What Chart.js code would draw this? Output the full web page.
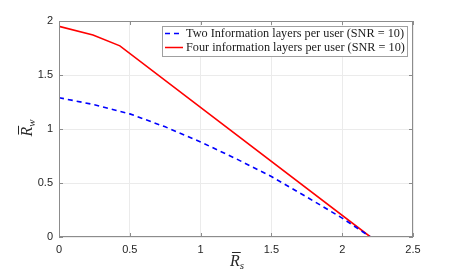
<!DOCTYPE html>
<html>
<head>
<meta charset="utf-8">
<script src="https://cdn.jsdelivr.net/npm/chart.js@4.4.1/dist/chart.umd.min.js"></script>
<style>
  html, body { margin: 0; padding: 0; background: #fff; }
  #wrap { width: 457px; height: 274px; }
</style>
</head>
<body>
<div id="wrap"><canvas id="c"></canvas></div>
<script>
// data
var seriesNames = ["Two Information layers per user (SNR = 10)", "Four information layers per user (SNR = 10)"];
var twoX = [0, 0.25, 0.5, 0.75, 1.0, 1.25, 1.5, 1.75, 2.0, 2.2];
var twoY = [1.29, 1.225, 1.14, 1.02, 0.88, 0.725, 0.56, 0.37, 0.175, 0];
var fourX = [0, 0.24, 0.43, 2.2];
var fourY = [1.95, 1.87, 1.77, 0];
var xTicks = [0, 0.5, 1, 1.5, 2, 2.5];
var yTicks = [0, 0.5, 1, 1.5, 2];

function pts(xs, ys) {
  return xs.map(function (x, i) { return { x: x, y: ys[i] }; });
}

// R-bar with subscript, drawn at (cx, cy) centre
function rbar(ctx, cx, cy, sub) {
  ctx.save();
  ctx.fillStyle = '#262626';
  ctx.strokeStyle = '#262626';
  ctx.textBaseline = 'alphabetic';
  ctx.font = 'italic 16px "Liberation Serif"';
  var wR = ctx.measureText('R').width;
  ctx.font = 'italic 11px "Liberation Serif"';
  var wS = ctx.measureText(sub).width;
  var x0 = cx - (wR + wS) / 2;
  var base = cy + 5;
  ctx.font = 'italic 16px "Liberation Serif"';
  ctx.fillText('R', x0, base);
  ctx.lineWidth = 1;
  ctx.beginPath();
  ctx.moveTo(x0 + 2, base - 13.5);
  ctx.lineTo(x0 + wR + 1, base - 13.5);
  ctx.stroke();
  ctx.font = 'italic 11px "Liberation Serif"';
  ctx.fillText(sub, x0 + wR, base + 3);
  ctx.restore();
}

var boxPlugin = {
  id: 'box',
  afterDraw: function (chart) {
    var ctx = chart.ctx, a = chart.chartArea;
    var xs = chart.scales.x, ys = chart.scales.y;
    ctx.save();
    // axes box
    ctx.strokeStyle = '#8c8c8c';
    ctx.lineWidth = 1;
    ctx.strokeRect(a.left + 0.5, a.top + 0.5, a.right - a.left - 1, a.bottom - a.top - 1);
    // inward ticks
    ctx.beginPath();
    xTicks.forEach(function (v) {
      var p = Math.round(xs.getPixelForValue(v)) + 0.5;
      ctx.moveTo(p, a.bottom); ctx.lineTo(p, a.bottom - 4);
      ctx.moveTo(p, a.top); ctx.lineTo(p, a.top + 4);
    });
    yTicks.forEach(function (v) {
      var p = Math.round(ys.getPixelForValue(v)) + 0.5;
      ctx.moveTo(a.left, p); ctx.lineTo(a.left + 4, p);
      ctx.moveTo(a.right, p); ctx.lineTo(a.right - 4, p);
    });
    ctx.stroke();

    // legend
    var lx = 162, ly = 26, lw = 245, lh = 30;
    ctx.fillStyle = '#fff';
    ctx.fillRect(lx, ly, lw, lh);
    ctx.strokeStyle = '#a0a0a0';
    ctx.strokeRect(lx + 0.5, ly + 0.5, lw, lh);
    var styles = [
      { color: '#0000ff', dash: [5, 4] },
      { color: '#ff0000', dash: [] }
    ];
    ctx.font = '11px "Liberation Serif"';
    var fs = 11 * 218 / ctx.measureText(seriesNames[0]).width;
    ctx.font = fs.toFixed(2) + 'px "Liberation Serif"';
    ctx.textBaseline = 'middle';
    [33.5, 47.5].forEach(function (y, i) {
      ctx.strokeStyle = styles[i].color;
      ctx.lineWidth = 1.5;
      ctx.setLineDash(styles[i].dash);
      ctx.beginPath();
      ctx.moveTo(165, y); ctx.lineTo(183, y);
      ctx.stroke();
      ctx.setLineDash([]);
      ctx.fillStyle = '#1a1a1a';
      ctx.fillText(seriesNames[i], 186, y + 0.5);
    });

    // axis titles
    rbar(ctx, 237, 261, 's');
    ctx.save();
    ctx.translate(27, 128);
    ctx.rotate(-Math.PI / 2);
    rbar(ctx, 0, 0, 'w');
    ctx.restore();
    ctx.restore();
  }
};

function plain(v) { return String(v); }

new Chart(document.getElementById('c'), {
  type: 'line',
  data: {
    datasets: [{
      label: seriesNames[0],
      data: pts(twoX, twoY),
      borderColor: '#0000ff',
      borderWidth: 1.6,
      borderDash: [5, 4],
      pointRadius: 0,
      fill: false,
      tension: 0
    }, {
      label: seriesNames[1],
      data: pts(fourX, fourY),
      borderColor: '#ff0000',
      borderWidth: 1.6,
      pointRadius: 0,
      fill: false,
      tension: 0
    }]
  },
  options: {
    responsive: true,
    maintainAspectRatio: false,
    animation: false,
    layout: { padding: { left: 0, top: 21, right: 44, bottom: 0 } },
    plugins: { legend: { display: false }, tooltip: { enabled: false } },
    scales: {
      x: {
        type: 'linear', min: 0, max: 2.5,
        afterFit: function (s) { s.height = 37; },
        afterBuildTicks: function (s) { s.ticks = xTicks.map(function (v) { return { value: v }; }); },
        border: { display: false },
        grid: { color: '#ebebeb', drawTicks: false },
        ticks: { padding: 6, color: '#262626', callback: plain, font: { family: '"Liberation Sans"', size: 11 } }
      },
      y: {
        type: 'linear', min: 0, max: 2,
        afterFit: function (s) { s.width = 59; },
        afterBuildTicks: function (s) { s.ticks = yTicks.map(function (v) { return { value: v }; }); },
        border: { display: false },
        grid: { color: '#ebebeb', drawTicks: false },
        ticks: { padding: 6, color: '#262626', callback: plain, font: { family: '"Liberation Sans"', size: 11 } }
      }
    }
  },
  plugins: [boxPlugin]
});
</script>
</body>
</html>
